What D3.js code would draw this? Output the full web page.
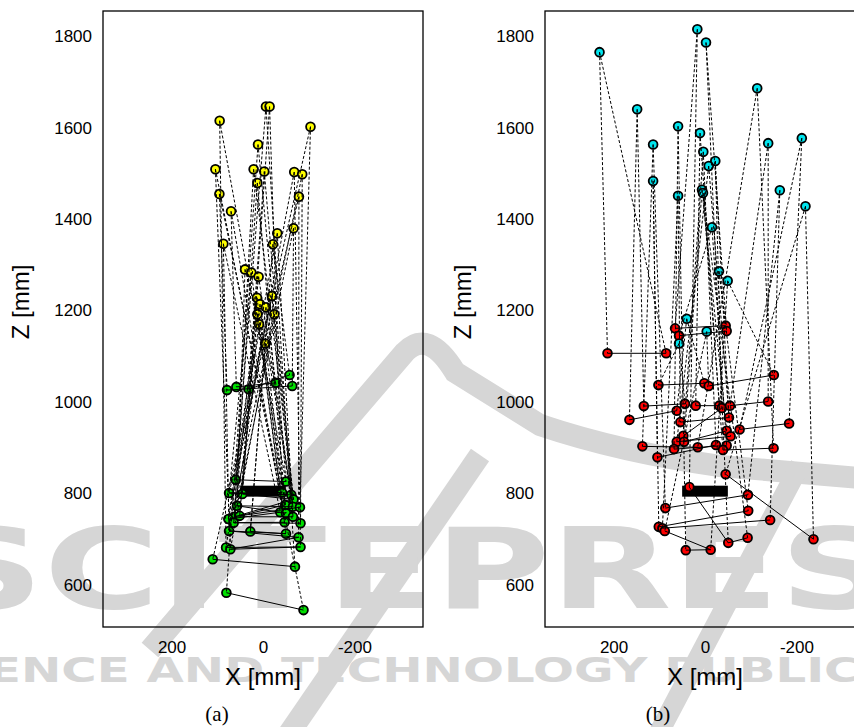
<!DOCTYPE html>
<html><head><meta charset="utf-8">
<script src="https://cdn.jsdelivr.net/npm/d3@7/dist/d3.min.js"></script>
<style>body{margin:0;background:#fff}</style>
</head><body>
<svg id="chart" width="854" height="727"></svg>
<script>
// ---------- data (mm) ----------
const xTicks = [200, 0, -200];
const zTicks = [600, 800, 1000, 1200, 1400, 1600, 1800];
const xDomain = [350, -350];
const zDomain = [508, 1855];
const objectRect = [[50, 793], [-50, 817]]; // [x0,z0],[x1,z1]

// panel (a): yellow = upper points, green = lower points
const topA = [[94.8,1615],[-6.5,1646],[-14.4,1646],[-103.9,1602],[10.9,1563],[104.1,1509],[20.5,1509],[-2.8,1504],[-68.3,1503],[-85.8,1498],[12.4,1479],[95.4,1455],[-78.6,1449],[69.9,1417],[-66.8,1380],[-31.2,1369],[86.7,1346],[-21.8,1345],[39.3,1290],[25.5,1283],[9.6,1274],[13.1,1228],[-19.6,1232],[6.5,1214],[-6.5,1207],[12.4,1192],[-24.7,1192],[8.7,1170],[-5.0,1128]];
const botA = [[78.6,1026],[58.3,1033],[31.4,1028],[-27.5,1042],[-58.1,1059],[-64,1035],[59.8,830],[-50.2,826],[74.2,801],[45.2,799],[-41.5,802],[-61.8,797],[-66.8,787],[56.8,773],[-48.7,775],[-65.5,771],[-80.8,770],[62.7,749],[51.1,751],[75.8,744],[-37.8,759],[-50.2,757],[-65.5,749],[64.2,736],[-47.2,737],[-82.1,735],[74.2,718],[27.7,717],[-50.2,712],[-77.7,704],[80.8,682],[71.4,678],[-82.1,683],[110,656],[-69.9,640],[80.1,583],[-88.6,545]];
const dashA = [[0,30],[0,7],[1,6],[1,34],[2,9],[2,10],[3,33],[3,16],[4,35],[4,11],[5,31],[5,36],[6,17],[6,12],[7,18],[7,15],[8,19],[8,32],[9,26],[9,25],[10,23],[10,14],[11,0],[11,21],[12,8],[12,29],[13,1],[13,24],[14,13],[14,5],[15,2],[15,22],[16,26],[16,20],[17,27],[17,4],[18,13],[18,3],[19,8],[19,28],[20,17],[20,11],[21,9],[21,10],[22,6],[22,7],[23,19],[23,15],[24,23],[24,22],[25,18],[25,24],[26,31],[26,12],[27,30],[27,14],[28,27],[28,21]];
const solidA = [[0,5],[1,3],[2,4],[6,7],[8,11],[9,10],[8,10],[9,12],[13,15],[13,21],[17,22],[18,16],[19,20],[18,14],[23,24],[23,25],[26,28],[27,28],[26,29],[31,29],[31,32],[30,32],[33,34],[35,36],[17,12]];

// panel (b): cyan = upper points, red = lower points
const topB = [[230.7,1765],[16.8,1815],[-2.2,1786],[-114.2,1686],[148.4,1640],[58.9,1603],[10.9,1588],[113.5,1563],[-138.2,1566],[-211.8,1577],[3.7,1547],[-22.5,1527],[-8.1,1516],[113.5,1483],[58.9,1451],[6.5,1464],[4.4,1457],[-163.7,1463],[-219.8,1428],[-15.3,1382],[-30.6,1286],[-49.6,1265],[40,1182],[-3.7,1154],[56.8,1128]];
const botB = [[213.3,1106.5],[85.1,1106.5],[65.5,1161],[-45.2,1167],[56.8,1145],[-47.4,1155],[101.9,1037],[1.5,1041],[-8.1,1035],[-150.6,1059],[133.8,991],[43.7,996],[20.3,992],[-31.2,992],[-37.1,987],[-54.6,992],[-138.2,1001],[61.8,981],[165.3,961],[53.9,956],[-52.4,966],[-184,953],[-47.4,937],[-75.7,940],[47.4,926],[-56.1,925],[61.8,913],[45.8,913],[136.9,903],[67.7,897],[15.9,901],[-24,906],[-47.4,905],[-39.3,895],[-150,899],[104.1,879],[-45.2,842],[34.3,814],[-93.9,797],[86.7,768],[-94.5,762],[-142.5,742],[101.1,727],[93.2,724],[88,718],[-93.2,703],[-50.9,692],[-12.4,677],[42.1,676],[-237.3,700]];
const dashB = [[0,0],[0,1],[1,2],[1,37],[2,5],[2,46],[3,34],[3,30],[4,18],[4,10],[5,29],[5,48],[6,12],[6,13],[7,28],[7,39],[8,16],[8,15],[9,21],[9,23],[10,31],[10,24],[11,14],[11,20],[12,25],[12,26],[13,35],[13,42],[14,19],[14,43],[15,27],[15,22],[16,33],[16,45],[17,41],[17,38],[18,49],[18,36],[19,4],[19,32],[20,3],[20,40],[21,9],[21,47],[22,7],[22,17],[23,8],[23,44],[24,6],[24,11]];
const solidB = [[0,1],[2,3],[4,5],[6,7],[8,9],[10,11],[12,13],[15,16],[18,17],[19,20],[23,21],[24,14],[26,25],[28,30],[35,31],[33,34],[36,49],[37,46],[39,38],[42,40],[43,41],[44,47],[48,47],[46,45],[27,22],[29,32]];

const panels = [
  {left:103, top:topA, bot:botA, dash:dashA, solid:solidA, topColor:"#ffff00", botColor:"#00e000", tag:"(a)", zLabelX:29},
  {left:545, top:topB, bot:botB, dash:dashB, solid:solidB, topColor:"#00e5ee", botColor:"#ff0000", tag:"(b)", zLabelX:471}
];

const svg = d3.select("#chart");
const W = 320, TOP = 11, BOTTOM = 627;
const GREY = "#d6d6d6";

// ---------- watermark ----------
const wm = svg.append("g").attr("class","watermark");
wm.append("path")
  .attr("d","M150,650 L405,352 Q428,328 455,372 L540,425 Q620,452 720,466 L860,478")
  .attr("fill","none").attr("stroke",GREY).attr("stroke-width",22);
wm.append("path").attr("d","M288,735 L480,455").attr("fill","none").attr("stroke",GREY).attr("stroke-width",22);
wm.append("path").attr("d","M655,740 L800,465").attr("fill","none").attr("stroke",GREY).attr("stroke-width",20);
wm.append("text").text("SCITEPRESS")
  .attr("x",-70).attr("y",608).attr("font-family","DejaVu Sans").attr("font-weight","bold")
  .attr("font-size",112).attr("textLength",1070).attr("lengthAdjust","spacingAndGlyphs")
  .attr("fill",GREY);
wm.append("text").text("SCIENCE AND TECHNOLOGY PUBLICATIONS")
  .attr("x",-100).attr("y",682).attr("font-family","DejaVu Sans").attr("font-weight","bold")
  .attr("font-size",34).attr("textLength",1160).attr("lengthAdjust","spacingAndGlyphs")
  .attr("fill",GREY);

// ---------- panels ----------
panels.forEach(p => {
  const x = d3.scaleLinear().domain(xDomain).range([p.left, p.left + W]);
  const y = d3.scaleLinear().domain(zDomain).range([BOTTOM, TOP]);
  const g = svg.append("g");

  // axes (labels only)
  const ax = g.append("g").attr("transform",`translate(0,${BOTTOM})`)
    .call(d3.axisBottom(x).tickValues(xTicks).tickSize(0).tickPadding(14).tickFormat(d => String(d)));
  const ay = g.append("g").attr("transform",`translate(${p.left},0)`)
    .call(d3.axisLeft(y).tickValues(zTicks).tickSize(0).tickPadding(11).tickFormat(d => String(d)));
  [ax, ay].forEach(a => {
    a.select(".domain").remove();
    a.selectAll("text").attr("font-family","'Liberation Sans', Arial, sans-serif").attr("font-size",17).attr("fill","#000");
  });

  // object rectangle
  g.append("rect")
    .attr("x", x(objectRect[0][0])).attr("y", y(objectRect[1][1]))
    .attr("width", x(objectRect[1][0]) - x(objectRect[0][0]))
    .attr("height", y(objectRect[0][1]) - y(objectRect[1][1]))
    .attr("fill","#000");

  // markers
  const mk = (arr, color) => g.append("g").selectAll("circle").data(arr).join("circle")
    .attr("cx", d => x(d[0])).attr("cy", d => y(d[1])).attr("r", 4.4)
    .attr("fill", color).attr("stroke","#000").attr("stroke-width",1.8);
  mk(p.bot, p.botColor);
  mk(p.top, p.topColor);

  // dashed links
  g.append("g").selectAll("line").data(p.dash).join("line")
    .attr("x1", d => x(p.top[d[0]][0])).attr("y1", d => y(p.top[d[0]][1]))
    .attr("x2", d => x(p.bot[d[1]][0])).attr("y2", d => y(p.bot[d[1]][1]))
    .attr("stroke","#000").attr("stroke-width",1).attr("stroke-dasharray","3,2");
  // solid links
  g.append("g").selectAll("line").data(p.solid).join("line")
    .attr("x1", d => x(p.bot[d[0]][0])).attr("y1", d => y(p.bot[d[0]][1]))
    .attr("x2", d => x(p.bot[d[1]][0])).attr("y2", d => y(p.bot[d[1]][1]))
    .attr("stroke","#000").attr("stroke-width",1);

  // frame
  g.append("rect").attr("x", p.left).attr("y", TOP).attr("width", W).attr("height", BOTTOM - TOP)
    .attr("fill","none").attr("stroke","#000").attr("stroke-width",1.3);

  // titles
  g.append("text").text("X [mm]").attr("x", x(0)).attr("y", 685).attr("text-anchor","middle")
    .attr("font-family","'Liberation Sans', Arial, sans-serif").attr("font-size",24);
  g.append("text").text("Z [mm]").attr("transform",`translate(${p.zLabelX},302) rotate(-90)`).attr("text-anchor","middle")
    .attr("font-family","'Liberation Sans', Arial, sans-serif").attr("font-size",24);
  g.append("text").text(p.tag).attr("x", p.left + (p.tag === "(a)" ? 114 : 113)).attr("y", 721).attr("text-anchor","middle")
    .attr("font-family","'Liberation Serif', 'Times New Roman', serif").attr("font-size",21);
});
</script>
</body></html>
